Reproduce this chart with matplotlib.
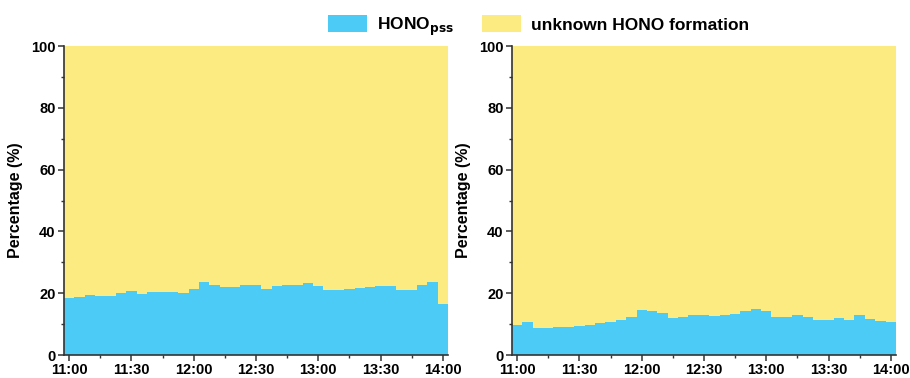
import numpy as np
import matplotlib.pyplot as plt
from matplotlib.patches import Patch

plt.rcParams['font.family'] = ['Liberation Sans', 'DejaVu Sans']
plt.rcParams['font.weight'] = 'bold'

# 5-minute steps from 11:00 to 14:00, in minutes after 11:00
minutes = np.arange(0, 181, 5)
tick_minutes = [0, 30, 60, 90, 120, 150, 180]
tick_labels = ["11:00", "11:30", "12:00", "12:30", "13:00", "13:30", "14:00"]

# HONO_pss share of the HONO budget (%), site 1 and site 2
pss_left = [18.3, 18.7, 19.3, 19.1, 19.1, 20.2, 20.8, 19.7, 20.4, 20.4,
            20.4, 20.2, 21.3, 23.5, 22.6, 22.1, 22.1, 22.6, 22.8, 21.3,
            22.4, 22.6, 22.8, 23.4, 22.2, 20.9, 20.9, 21.3, 21.7, 22.0,
            22.2, 22.2, 20.9, 21.1, 22.8, 23.7, 16.6]
pss_right = [9.7, 10.6, 8.8, 8.8, 9.0, 9.2, 9.5, 9.7, 10.3, 10.6,
             11.4, 12.4, 14.6, 14.1, 13.5, 11.9, 12.2, 13.1, 13.1, 12.5,
             12.8, 13.3, 14.1, 14.8, 14.1, 12.4, 12.4, 12.8, 12.2, 11.4,
             11.4, 12.0, 11.4, 13.0, 11.5, 11.1, 10.8]

blue = '#4ccbf7'
yellow = '#fbeb80'
axis_col = '#333333'

fig = plt.figure(figsize=(9.1, 3.78), dpi=100)
ax1 = fig.add_axes([0.0703, 0.0608, 0.422, 0.8175])
ax2 = fig.add_axes([0.5626, 0.0608, 0.422, 0.8175])

for ax, pss in [(ax1, pss_left), (ax2, pss_right)]:
    pss = np.array(pss)
    ax.bar(minutes, pss, width=5, color=blue, linewidth=0)
    ax.bar(minutes, 100 - pss, bottom=pss, width=5, color=yellow, linewidth=0)
    ax.set_xlim(-2.5, 182.5)
    ax.set_ylim(0, 100)
    ax.set_xticks(tick_minutes)
    ax.set_xticklabels(tick_labels)
    ax.set_xticks(np.arange(15, 181, 30), minor=True)
    ax.set_yticks([0, 20, 40, 60, 80, 100])
    ax.set_yticks([10, 30, 50, 70, 90], minor=True)
    ax.set_ylabel("Percentage (%)", fontsize=11.5, fontweight='bold', labelpad=6)
    for side in ['top', 'right']:
        ax.spines[side].set_visible(False)
    for side in ['left', 'bottom']:
        ax.spines[side].set_color(axis_col)
        ax.spines[side].set_linewidth(1.2)
    ax.tick_params(which='major', direction='out', length=4, width=1.1,
                   color=axis_col, labelsize=10.5, pad=2)
    ax.tick_params(which='minor', direction='out', length=2.5, width=1.0,
                   color=axis_col)
    for lbl in ax.get_xticklabels() + ax.get_yticklabels():
        lbl.set_fontweight('bold')

handles = [Patch(facecolor=blue, edgecolor='none'),
           Patch(facecolor=yellow, edgecolor='none')]
fig.legend(handles, [r"HONO$_{\mathbf{pss}}$", "unknown HONO formation"],
           loc='center', bbox_to_anchor=(0.592, 0.930), ncol=2,
           frameon=False, fontsize=12.5, handlelength=2.25, handleheight=1.1,
           columnspacing=1.65, handletextpad=0.57, borderpad=0.2)

fig.savefig("out.png", dpi=100)
